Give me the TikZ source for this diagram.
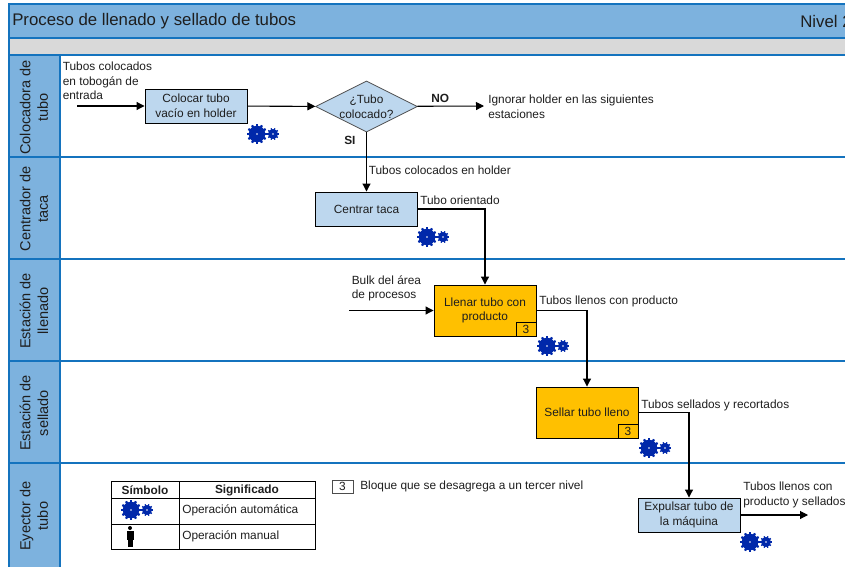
\documentclass[tikz,border=0pt]{standalone}
\usepackage{fontspec}
\setmainfont{Liberation Sans}
\usepackage{xcolor}
\usetikzlibrary{shapes,shapes.geometric}
\usetikzlibrary{arrows.meta}
\usetikzlibrary{positioning}
\definecolor{bandblue}{RGB}{125,178,222}
\definecolor{rulemain}{RGB}{20,115,190}
\definecolor{boxblue}{RGB}{189,215,238}
\definecolor{boxorange}{RGB}{255,192,0}
\definecolor{gearblue}{RGB}{0,40,170}
\definecolor{inktext}{RGB}{30,30,30}
\begin{document}
\begin{tikzpicture}[x=0.75pt,y=-0.75pt]
\tikzset{
  txt/.style={font=\fontsize{8.9}{10.9}\selectfont,text=inktext,inner sep=0pt},
  boldtxt/.style={txt,font=\fontsize{8.9}{10.9}\selectfont\bfseries},
  headtxt/.style={anchor=west,font=\fontsize{12.6}{15}\selectfont,text=inktext,inner sep=0pt},
  flowlabel/.style={txt,anchor=north west,align=left},
  lanelabel/.style={font=\fontsize{10.9}{13.2}\selectfont,text=inktext,inner sep=0pt,rotate=90,align=center},
  procbox/.style={txt,draw=black,line width=0.7pt,fill=boxblue,align=center,minimum width=76.5pt,minimum height=25.5pt},
  procfill/.style={procbox,fill=boxorange,minimum height=38.25pt},
  decision/.style={txt,draw=black!70,line width=0.6pt,fill=boxblue,diamond,aspect=2,align=center,minimum width=76.5pt,minimum height=38.25pt},
  badge/.style={txt,draw=black,line width=0.7pt,minimum width=15pt,minimum height=10.5pt},
  flow/.style={line width=0.8pt,-{Triangle[length=6pt,width=6pt]}},
  gears/.pic={
    \foreach \a in {0,30,...,330} \draw[gearblue,line width=1.7pt] (\a:6)--(\a:10);
    \fill[gearblue] (0,0) circle (8.3);
    \fill[white] (0,0) circle (0.9);
    \foreach \a in {0,36,...,324} \draw[gearblue,line width=1pt] ([xshift=12pt]\a:3)--([xshift=12pt]\a:6);
    \fill[gearblue] (16,0) circle (5);
    \fill[white] (16,0) circle (0.8);
  }
}
\useasboundingbox (0,0) rectangle (845,567);
\clip (0,0) rectangle (845,567);
% bands and lanes
\fill[bandblue] (9,4) rectangle (845,38);
\fill[black!15] (9,38) rectangle (845,55);
\fill[bandblue] (9,55) rectangle (60,567);
\draw[rulemain,line width=1pt] (845,4) -- (9,4) -- (9,567);
\draw[rulemain,line width=1pt] (60,55) -- (60,567);
\foreach \y in {38,55,157,259,361,463} \draw[rulemain,line width=1pt] (9,\y) -- (845,\y);
\node[headtxt](title) at (12,21){Proceso de llenado y sellado de tubos};
\node[headtxt](nivel) at (800,21){Nivel 2};
\node[lanelabel](lanea) at (34,107.5){Colocadora de\\tubo};
\node[lanelabel](laneb) at (34,209){Centrador de\\taca};
\node[lanelabel](lanec) at (34,311){Estación de\\llenado};
\node[lanelabel](laned) at (34,413){Estación de\\sellado};
\node[lanelabel](lanee) at (34,516){Eyector de\\tubo};
% process
\node[procbox](colocar) at (196,106){Colocar tubo\\vacío en holder};
\node[decision](tubo) at (366.5,106.5){¿Tubo\\colocado?};
\node[procbox](centrar) at (366.5,209){Centrar taca};
\node[procfill](llenar) at (485,310.5){Llenar tubo con\\producto};
\node[badge,anchor=south east](badgea) at (llenar.south east){3};
\node[procfill](sellar) at (587,412.5){Sellar tubo lleno};
\node[badge,anchor=south east](badgeb) at (sellar.south east){3};
\node[procbox](expulsar) at (689,515){Expulsar tubo de\\la máquina};
% free ends
\coordinate (inicio) at (77,106);
\coordinate (ignorar) at (484,106);
\coordinate (bulk) at (349,310.5);
\coordinate (salida) at (808,515);
% connectors
\draw[flow](inicio) -- (colocar);
\draw[flow](colocar) -- (tubo);
\draw[flow](tubo) -- (ignorar);
\draw[flow](tubo) -- (centrar);
\draw[flow](centrar.east) -| (llenar.north);
\draw[flow](bulk) -- (llenar);
\draw[flow](llenar.east) -| (sellar.north);
\draw[flow](sellar.east) -| (expulsar.north);
\draw[flow](expulsar) -- (salida);
% labels
\node[flowlabel](la) at (62.5,62){Tubos colocados\\en tobogán de\\entrada};
\node[boldtxt,anchor=west](no) at (431,98){NO};
\node[boldtxt,anchor=west](si) at (344,140){SI};
\node[flowlabel](lb) at (488,95){Ignorar holder en las siguientes\\estaciones};
\node[flowlabel](lc) at (368.5,166){Tubos colocados en holder};
\node[flowlabel](ld) at (420,196){Tubo orientado};
\node[flowlabel](le) at (351.5,275){Bulk del área\\de procesos};
\node[flowlabel](lf) at (539,296){Tubos llenos con producto};
\node[flowlabel](lg) at (641,400){Tubos sellados y recortados};
\node[flowlabel](lh) at (743,482){Tubos llenos con\\producto y sellados};
% gears
\pic at (257,134) {gears};
\pic at (427,237) {gears};
\pic at (547,346) {gears};
\pic at (649,448) {gears};
\pic at (750,542) {gears};
% legend
\draw[line width=0.7pt] (111,481) rectangle (315,549);
\draw[line width=0.7pt] (111,498) -- (315,498);
\draw[line width=0.7pt] (111,524) -- (315,524);
\draw[line width=0.7pt] (179,481) -- (179,549);
\node[boldtxt](simbolo) at (145,490){Símbolo};
\node[boldtxt](signif) at (247,490){Significado};
\node[txt,anchor=west](auto) at (182,510){Operación automática};
\node[txt,anchor=west](manual) at (182,536){Operación manual};
\pic at (131,510) {gears};
\fill (130,528) circle (2);
\fill (126.5,531) rectangle (133.5,540);
\fill (127.5,540) rectangle (129.6,547);
\fill (130.4,540) rectangle (132.5,547);
\node[txt,draw=black!70,line width=0.5pt,minimum width=15.5pt,minimum height=9.5pt](badgec) at (342.5,486.5){3};
\node[txt,anchor=west](bloque) at (360,486.5){Bloque que se desagrega a un tercer nivel};
\end{tikzpicture}
\end{document}
